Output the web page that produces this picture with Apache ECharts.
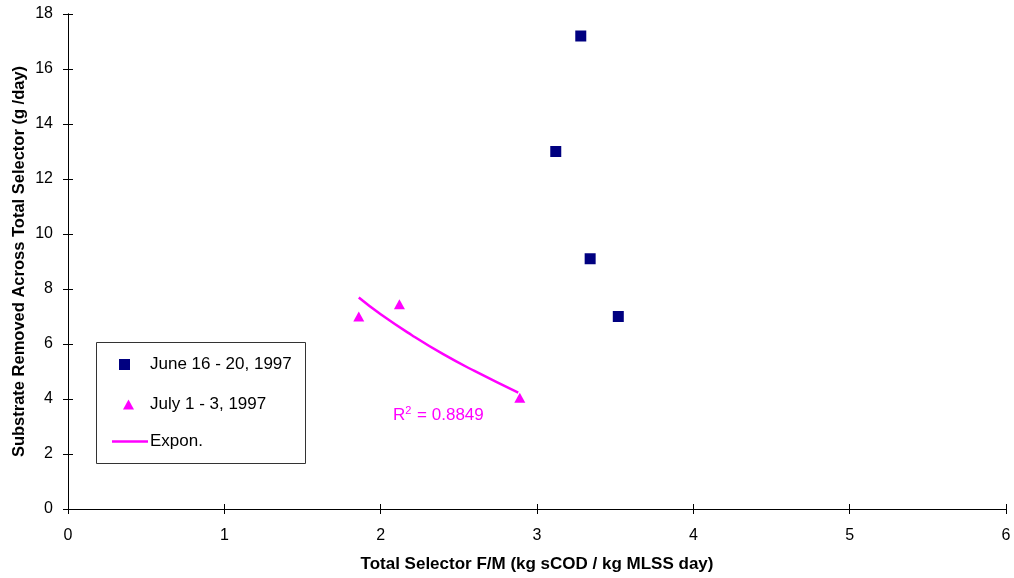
<!DOCTYPE html>
<html>
<head>
<meta charset="utf-8">
<script src="https://cdn.jsdelivr.net/npm/echarts@6/dist/echarts.min.js"></script>
<style>
  html, body { margin: 0; padding: 0; background: #fff; }
  #chart { width: 1014px; height: 578px; }
</style>
</head>
<body>
<div id="chart"></div>
<script>
// data
var juneX = [3.28, 3.12, 3.34, 3.52]
var juneY = [17.2, 13.0, 9.1, 7.0]
var julyX = [1.86, 2.12, 2.89]
var julyY = [7.0, 7.45, 4.05]
// exponential trendline, points
var trendX = [1.86, 2.0, 2.2, 2.4, 2.6, 2.88]
var trendY = [7.69, 7.08, 6.32, 5.63, 5.02, 4.23]
var xTicks = [0, 1, 2, 3, 4, 5, 6]
var yTicks = [0, 2, 4, 6, 8, 10, 12, 14, 16, 18]

var pairs = function (xs, ys) {
  return xs.map(function (x, i) { return [x, ys[i]] })
}

var font = 'Liberation Sans, Arial, sans-serif'
var navy = '#000080'
var magenta = '#ff00ff'
var gridBox = { left: 68, right: 8, top: 14, bottom: 69, outerBoundsMode: 'none' }

var xRange = { type: 'value', min: xTicks[0], max: xTicks[xTicks.length - 1], interval: 1, splitLine: { show: false } }
var yRange = { type: 'value', min: yTicks[0], max: yTicks[yTicks.length - 1], interval: 2, splitLine: { show: false } }

var chart = echarts.init(document.getElementById('chart'))
chart.setOption({
  animation: false,
  backgroundColor: '#fff',
  textStyle: { fontFamily: font },
  // two identical grids: the second one carries the inner half of the crossing ticks
  grid: [Object.assign({}, gridBox), Object.assign({}, gridBox)],
  xAxis: [
    Object.assign({}, xRange, {
      gridIndex: 0,
      axisLine: { lineStyle: { color: '#000', width: 1 } },
      axisTick: { length: 5, lineStyle: { color: '#000' } },
      axisLabel: { color: '#000', fontSize: 16, margin: 19 },
      name: 'Total Selector F/M (kg sCOD / kg MLSS day)',
      nameLocation: 'middle', nameGap: 47, nameMoveOverlap: false,
      nameTextStyle: { color: '#000', fontSize: 17, fontWeight: 'bold' }
    }),
    Object.assign({}, xRange, {
      gridIndex: 1,
      axisLine: { show: true, lineStyle: { color: '#000', width: 1 } },
      axisTick: { show: true, inside: true, length: 5, lineStyle: { color: '#000', width: 1 } },
      axisLabel: { show: false }
    })
  ],
  yAxis: [
    Object.assign({}, yRange, {
      gridIndex: 0,
      axisLine: { show: true, lineStyle: { color: '#000', width: 1 } },
      axisTick: { show: true, length: 5, lineStyle: { color: '#000' } },
      axisLabel: { color: '#000', fontSize: 16, margin: 15 },
      name: 'Substrate Removed Across Total Selector (g /day)',
      nameLocation: 'middle', nameGap: 40, nameMoveOverlap: false,
      nameTextStyle: { color: '#000', fontSize: 16.5, fontWeight: 'bold' }
    }),
    Object.assign({}, yRange, {
      gridIndex: 1,
      axisLine: { show: true, lineStyle: { color: '#000', width: 1 } },
      axisTick: { show: true, inside: true, length: 5, lineStyle: { color: '#000', width: 1 } },
      axisLabel: { show: false }
    })
  ],
  legend: [
    {
      data: ['June 16 - 20, 1997'], left: 119, top: 356, padding: 0,
      icon: 'rect', itemWidth: 11, itemHeight: 11,
      textStyle: { color: '#000', fontSize: 17, padding: [0, 0, 0, 15] }
    },
    {
      data: ['July 1 - 3, 1997'], left: 123, top: 396, padding: 0,
      icon: 'triangle', itemWidth: 11, itemHeight: 10,
      textStyle: { color: '#000', fontSize: 17, padding: [0, 0, 0, 11] }
    },
    {
      data: ['Expon.'], left: 112, top: 433, padding: 0,
      icon: 'rect', itemWidth: 36, itemHeight: 2.5,
      textStyle: { color: '#000', fontSize: 17, padding: [0, 0, 0, -3] }
    }
  ],
  graphic: [
    {
      type: 'rect', left: 96, top: 342, z: -1,
      shape: { width: 209, height: 121 },
      style: { fill: '#fff', stroke: '#333', lineWidth: 1 }
    },
    {
      type: 'text', left: 393, top: 405,
      style: {
        text: '{a|R}{s|2}{a| = 0.8849}',
        rich: {
          a: { fontSize: 17, fill: magenta, fontFamily: font },
          s: { fontSize: 11, fill: magenta, fontFamily: font, padding: [0, 1, 10, 0] }
        }
      }
    }
  ],
  series: [
    {
      name: 'June 16 - 20, 1997', type: 'scatter',
      symbol: 'rect', symbolSize: 11,
      itemStyle: { color: navy, opacity: 1 },
      data: pairs(juneX, juneY)
    },
    {
      name: 'July 1 - 3, 1997', type: 'scatter',
      symbol: 'triangle', symbolSize: [11, 10],
      itemStyle: { color: magenta, opacity: 1 },
      data: pairs(julyX, julyY)
    },
    {
      name: 'Expon.', type: 'line', smooth: true,
      xAxisIndex: 1, yAxisIndex: 1,
      showSymbol: false, symbol: 'none',
      lineStyle: { color: magenta, width: 2.5 },
      itemStyle: { color: magenta },
      data: pairs(trendX, trendY)
    }
  ]
})
</script>
</body>
</html>
